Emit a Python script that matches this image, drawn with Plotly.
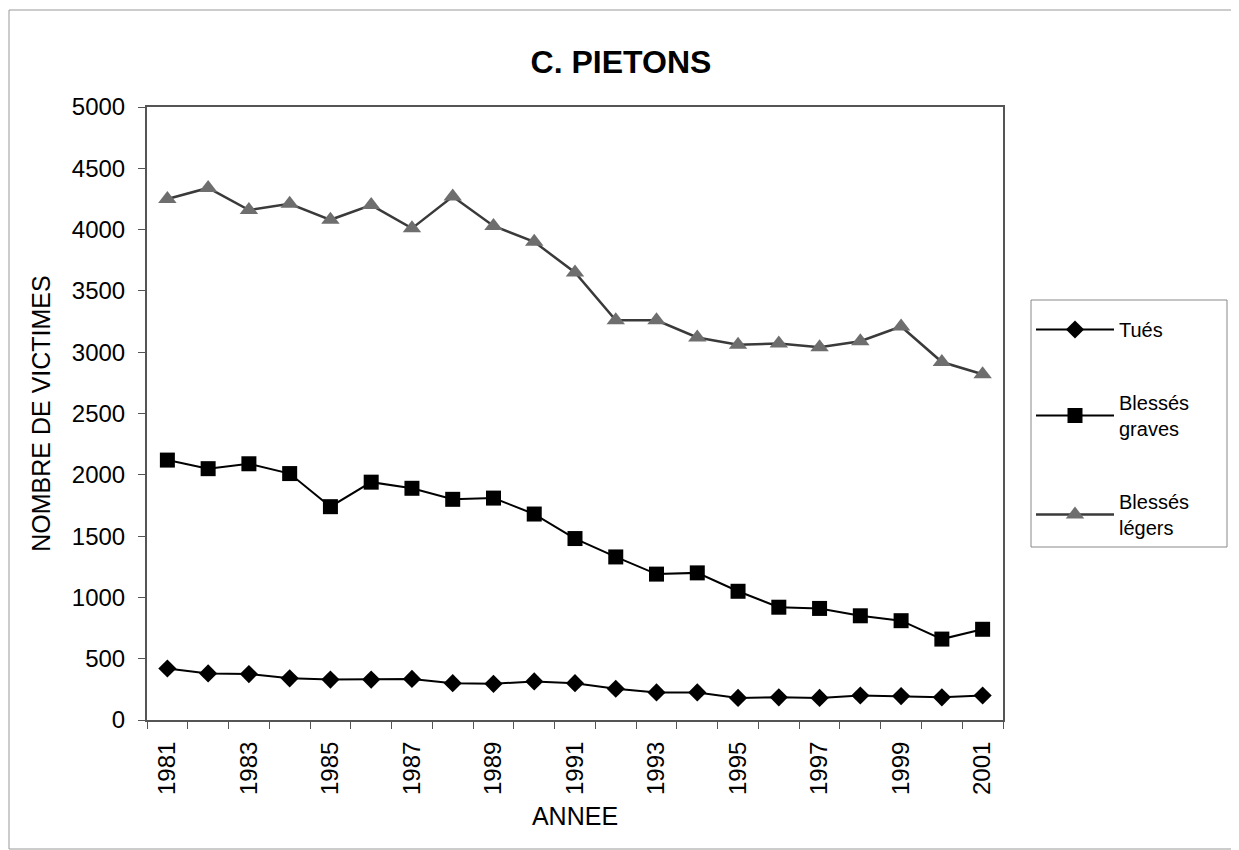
"""Pedestrian casualties 1981-2001 (line chart, Excel-style)."""

import plotly.graph_objects as go

years = list(range(1981, 2002))

tues = [420, 380, 375, 340, 330, 330, 335, 300, 295, 315, 300,
        255, 225, 225, 180, 185, 180, 200, 195, 185, 200]
blesses_graves = [2120, 2050, 2090, 2010, 1740, 1940, 1890, 1800, 1810, 1680, 1480,
                  1330, 1190, 1200, 1050, 920, 910, 850, 810, 660, 740]
blesses_legers = [4250, 4340, 4160, 4210, 4080, 4200, 4010, 4270, 4030, 3900, 3650,
                  3260, 3260, 3120, 3060, 3070, 3040, 3090, 3210, 2920, 2820]

x_ticks = list(range(1981, 2002, 2))
y_ticks = list(range(0, 5001, 500))

FONT = "Liberation Sans, Arial, sans-serif"

# page body has an 8px margin, so page coords are shifted by 8 in the figure
OFF = 8
PLOT_L, PLOT_R, PLOT_T, PLOT_B = 147, 1003, 107, 720
PW, PH = PLOT_R - PLOT_L, PLOT_B - PLOT_T


def px(x):
    return (x - PLOT_L) / PW


def py(y):
    return (PLOT_B - y) / PH


fig = go.Figure()

fig.add_trace(go.Scatter(
    x=years, y=tues, name="Tués", mode="lines+markers", legendgroup="a",
    line=dict(color="black", width=2),
    marker=dict(symbol="diamond", size=14, color="black"),
))
fig.add_trace(go.Scatter(
    x=years, y=blesses_graves, name="Blessés<br>graves", mode="lines+markers",
    legendgroup="b",
    line=dict(color="black", width=2),
    marker=dict(symbol="square", size=15, color="black"),
))
fig.add_trace(go.Scatter(
    x=years, y=blesses_legers, name="Blessés<br>légers", mode="lines+markers",
    legendgroup="c",
    line=dict(color="#3a3a3a", width=2.5),
    marker=dict(symbol="triangle-up", size=16, color="#6e6e6e"),
))

fig.update_layout(
    width=1239,
    height=850,
    margin=dict(l=PLOT_L - OFF, r=1239 - (PLOT_R - OFF),
                t=PLOT_T - OFF, b=850 - (PLOT_B - OFF)),
    paper_bgcolor="white",
    plot_bgcolor="white",
    font=dict(family=FONT, size=24, color="black"),
    title=dict(text="<b>C. PIETONS</b>", x=(621 - OFF) / 1239, xanchor="center",
               y=1 - (62 - OFF) / 850, yanchor="middle", font=dict(size=32)),
    xaxis=dict(
        range=[1980.5, 2001.5],
        tickvals=x_ticks,
        ticktext=[str(y) for y in x_ticks],
        tickangle=-90,
        ticks="",
        ticklabelstandoff=10,
        showgrid=False,
        zeroline=False,
        showline=True, mirror=True, linecolor="#555", linewidth=2,
        minor=dict(ticks="outside", tick0=1980.5, dtick=1, ticklen=7,
                   tickcolor="#555", showgrid=False),
        title=dict(text="ANNEE", font=dict(size=25), standoff=14),
    ),
    yaxis=dict(
        range=[0, 5000],
        tickvals=y_ticks,
        ticks="outside", ticklen=7, tickcolor="#555",
        ticklabelstandoff=8,
        showgrid=False,
        zeroline=False,
        showline=True, mirror=True, linecolor="#555", linewidth=2,
        title=dict(text="NOMBRE DE VICTIMES", font=dict(size=25), standoff=14),
    ),
    legend=dict(
        x=px(1031), xanchor="left",
        y=py(310), yanchor="top",
        bgcolor="rgba(0,0,0,0)",
        borderwidth=0,
        font=dict(size=20),
        tracegroupgap=44,
        itemwidth=78,
    ),
    shapes=[
        # outer chart frame
        dict(type="rect", xref="paper", yref="paper",
             x0=px(9), x1=px(1235), y0=py(849), y1=py(10),
             line=dict(color="#999", width=1)),
        # legend box
        dict(type="rect", xref="paper", yref="paper",
             x0=px(1031), x1=px(1227), y0=py(547), y1=py(300),
             line=dict(color="#888", width=1)),
    ],
)

fig.write_html("out.html")
